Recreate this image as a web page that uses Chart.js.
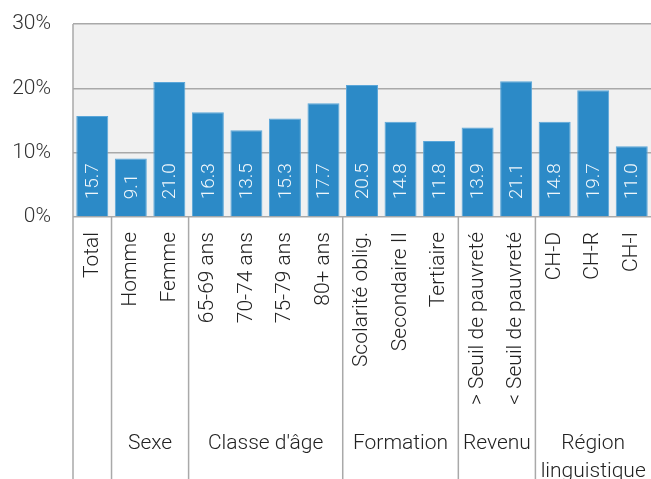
<!DOCTYPE html>
<html>
<head>
<meta charset="utf-8">
<script src="https://cdn.jsdelivr.net/npm/chart.js@4"></script>
<style>
  html, body { margin: 0; padding: 0; background: #fff; }
  #wrap { width: 651px; height: 479px; }
</style>
</head>
<body>
<div id="wrap"><canvas id="chart"></canvas></div>
<script>
const categories = ['Total', 'Homme', 'Femme', '65-69 ans', '70-74 ans', '75-79 ans', '80+ ans',
  'Scolarité oblig.', 'Secondaire II', 'Tertiaire', '> Seuil de pauvreté', '< Seuil de pauvreté',
  'CH-D', 'CH-R', 'CH-I'];
const values = [15.7, 9.1, 21.0, 16.3, 13.5, 15.3, 17.7, 20.5, 14.8, 11.8, 13.9, 21.1, 14.8, 19.7, 11.0];
const groupNames = [[''], ['Sexe'], ["Classe d'âge"], ['Formation'], ['Revenu'], ['Région', 'linguistique']];
const groupStarts = [0, 1, 3, 7, 10, 12];
const yTicks = [0, 10, 20, 30];

const FONT = 'Roboto';
const LINE = '#a9a9a9';

const background = {
  id: 'background',
  beforeDraw(chart) {
    const { ctx, chartArea: a } = chart;
    ctx.save();
    ctx.fillStyle = '#f1f1f1';
    ctx.fillRect(a.left, a.top, a.right - a.left, a.bottom - a.top);
    ctx.restore();
  }
};

const valueLabels = {
  id: 'valueLabels',
  afterDatasetsDraw(chart) {
    const ctx = chart.ctx;
    const meta = chart.getDatasetMeta(0);
    ctx.save();
    ctx.fillStyle = 'rgba(255,255,255,0.92)';
    ctx.font = '300 19px ' + FONT;
    ctx.textAlign = 'left';
    ctx.textBaseline = 'middle';
    meta.data.forEach((bar, i) => {
      ctx.save();
      ctx.translate(bar.x, bar.base - 17);
      ctx.rotate(-Math.PI / 2);
      ctx.fillText(values[i].toFixed(1), 0, 1);
      ctx.restore();
    });
    ctx.restore();
  }
};

const groups = {
  id: 'groups',
  afterDraw(chart) {
    const { ctx, chartArea: a } = chart;
    const x = chart.scales.x;
    const half = (x.getPixelForValue(1) - x.getPixelForValue(0)) / 2;
    const H = chart.height;
    ctx.save();
    ctx.strokeStyle = LINE;
    ctx.lineWidth = 1.5;
    // left border of the plot
    ctx.beginPath();
    ctx.moveTo(a.left, a.top);
    ctx.lineTo(a.left, H);
    ctx.stroke();
    groupStarts.forEach((s, g) => {
      const x0 = x.getPixelForValue(s) - half;
      const end = g + 1 < groupStarts.length ? groupStarts[g + 1] : categories.length;
      const x1 = x.getPixelForValue(end - 1) + half;
      if (s > 0) {
        ctx.beginPath();
        ctx.moveTo(x0, a.bottom);
        ctx.lineTo(x0, H);
        ctx.stroke();
      }
      ctx.fillStyle = '#222';
      ctx.font = '300 21px ' + FONT;
      ctx.textAlign = 'center';
      ctx.textBaseline = 'alphabetic';
      groupNames[g].forEach((t, k) => ctx.fillText(t, (x0 + x1) / 2, 449 + k * 28));
    });
    ctx.restore();
  }
};

new Chart(document.getElementById('chart'), {
  type: 'bar',
  data: {
    labels: categories,
    datasets: [{
      data: values,
      backgroundColor: '#2c8ac7',
      borderColor: '#5aa6d9',
      borderWidth: 1,
      categoryPercentage: 1,
      barPercentage: 0.83
    }]
  },
  options: {
    responsive: true,
    maintainAspectRatio: false,
    animation: false,
    layout: { padding: { top: 24, left: 0, right: 0, bottom: 0 } },
    plugins: {
      legend: { display: false },
      tooltip: { enabled: false }
    },
    scales: {
      x: {
        grid: { display: false, drawTicks: false },
        border: { display: false },
        ticks: {
          autoSkip: false,
          minRotation: 90,
          maxRotation: 90,
          padding: 15,
          color: '#222',
          font: { family: FONT, size: 21, weight: 300 }
        },
        afterFit(scale) {
          scale.height = 262;
          scale.paddingLeft = 0;
          scale.paddingRight = 0;
        }
      },
      y: {
        min: 0,
        max: 30,
        afterBuildTicks(scale) {
          scale.ticks = yTicks.map(v => ({ value: v }));
        },
        grid: { color: LINE, lineWidth: 1.5, drawTicks: false },
        border: { display: false },
        ticks: {
          padding: 22,
          color: '#333',
          font: { family: FONT, size: 21, weight: 300 },
          callback: v => v + '%'
        },
        afterFit(scale) {
          scale.width = 73;
          scale.paddingTop = 0;
          scale.paddingBottom = 0;
        }
      }
    }
  },
  plugins: [background, valueLabels, groups]
});
</script>
</body>
</html>
